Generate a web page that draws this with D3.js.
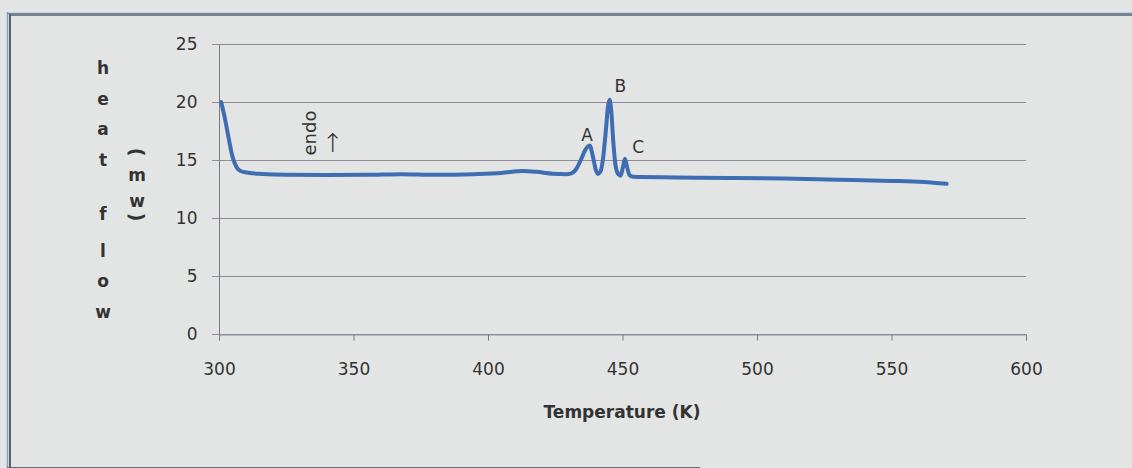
<!DOCTYPE html>
<html>
<head>
<meta charset="utf-8">
<script src="https://cdn.jsdelivr.net/npm/d3@7/dist/d3.min.js"></script>
<style>
  html, body { margin: 0; padding: 0; background: #e3e5e5; }
  svg { display: block; }
  text { font-family: "DejaVu Sans", sans-serif; fill: #333; }
</style>
</head>
<body>
<svg id="chart" width="1132" height="468"></svg>
<script>
// ---- data ----
const temperature = [300.8, 302, 303.5, 305, 306.5, 308, 311, 316, 325, 340, 355, 368, 380, 395, 405, 413, 418, 424, 429, 431, 433, 434.5, 436, 437.8, 439, 440, 440.8, 441.8, 442.8, 443.8, 444.6, 445.2, 445.8, 446.6, 447.5, 448.5, 449.3, 450.1, 450.9, 451.7, 452.6, 454, 470, 490, 510, 530, 550, 562, 570.5];
const heatFlow = [20.0, 18.8, 17.0, 15.3, 14.4, 14.05, 13.9, 13.8, 13.72, 13.7, 13.72, 13.78, 13.72, 13.78, 13.88, 14.05, 13.98, 13.82, 13.78, 13.85, 14.3, 15.0, 15.8, 16.25, 15.3, 14.2, 13.8, 14.0, 15.2, 17.5, 19.6, 20.2, 19.3, 16.5, 14.4, 13.75, 13.65, 14.3, 15.1, 14.4, 13.7, 13.55, 13.5, 13.45, 13.4, 13.3, 13.2, 13.1, 12.95];
const xTicks = [300, 350, 400, 450, 500, 550, 600];
const yTicks = [0, 5, 10, 15, 20, 25];
const peakLabels = ["A", "B", "C"];
const peakT = [436.8, 449.2, 455.8];
const peakV = [16.6, 20.85, 15.6];
const xTitle = "Temperature (K)";
const yTitleLetters = ["h", "e", "a", "t", "f", "l", "o", "w"];
const yUnitLetters = ["(", "m", "w", ")"];

// ---- layout ----
const svg = d3.select("#chart");
const x = d3.scaleLinear().domain([300, 600]).range([219, 1026]);
const y = d3.scaleLinear().domain([0, 25]).range([334, 44]);

// frame
svg.append("line").attr("x1", 7.5).attr("x2", 7.5).attr("y1", 12).attr("y2", 468).attr("stroke", "#7fa3cf").attr("stroke-width", 1.5);
svg.append("line").attr("x1", 10).attr("x2", 10).attr("y1", 13).attr("y2", 468).attr("stroke", "#5d6068").attr("stroke-width", 2);
svg.append("line").attr("x1", 7).attr("x2", 1132).attr("y1", 13.5).attr("y2", 13.5).attr("stroke", "#6b8fbd").attr("stroke-width", 1.5);
svg.append("line").attr("x1", 9).attr("x2", 1132).attr("y1", 15).attr("y2", 15).attr("stroke", "#5d6068").attr("stroke-width", 1.5);
svg.append("line").attr("x1", 7).attr("x2", 700).attr("y1", 467.5).attr("y2", 467.5).attr("stroke", "#6a6870").attr("stroke-width", 1);

// gridlines
svg.append("g").selectAll("line").data(yTicks).join("line")
  .attr("x1", 212).attr("x2", x(600))
  .attr("y1", d => Math.round(y(d)) + 0.5).attr("y2", d => Math.round(y(d)) + 0.5)
  .attr("stroke", "#8f8b9b").attr("stroke-width", 1);

// axes
const xAxis = svg.append("g").attr("transform", `translate(0,${Math.round(y(0)) + 0.5})`)
  .call(d3.axisBottom(x).tickValues(xTicks).tickSize(6).tickPadding(22));
xAxis.select(".domain").attr("stroke", "#8f8b9b");
xAxis.selectAll(".tick line").attr("stroke", "#7b7886");
xAxis.selectAll("text").attr("font-size", 17).attr("fill", "#333").attr("font-family", "DejaVu Sans");

const yAxis = svg.append("g").attr("transform", `translate(${Math.round(x(300)) + 0.5},0)`)
  .call(d3.axisLeft(y).tickValues(yTicks).tickSize(0).tickPadding(22));
yAxis.select(".domain").attr("d", `M0,${y(25)}V${y(0) + 6}`).attr("stroke", "#7b7886");
yAxis.selectAll("text").attr("font-size", 17).attr("fill", "#333").attr("font-family", "DejaVu Sans");

// curve
const pts = temperature.map((t, i) => [t, heatFlow[i]]);
svg.append("path").datum(pts)
  .attr("fill", "none").attr("stroke", "#3e6db2").attr("stroke-width", 4)
  .attr("stroke-linejoin", "round").attr("stroke-linecap", "round")
  .attr("d", d3.line().x(d => x(d[0])).y(d => y(d[1])).curve(d3.curveMonotoneX));

// peak labels
svg.append("g").selectAll("text").data(peakLabels).join("text")
  .attr("x", (d, i) => x(peakT[i])).attr("y", (d, i) => y(peakV[i]))
  .attr("text-anchor", "middle").attr("font-size", 17).text(d => d);

// endo arrow annotation
svg.append("text").attr("transform", `translate(316,133) rotate(-90)`)
  .attr("font-size", 18).attr("text-anchor", "middle").text("endo");
svg.append("text").attr("x", 333).attr("y", 143).attr("dy", "0.35em")
  .attr("font-size", 26).attr("font-weight", "200").attr("text-anchor", "middle").text("↑");

// x title
svg.append("text").attr("x", 622).attr("y", 418).attr("text-anchor", "middle")
  .attr("font-size", 17).attr("font-weight", "bold").text(xTitle);

// y title stacked letters
const titleY = [74, 105, 135, 166, 220, 257, 287, 318];
svg.append("g").selectAll("text").data(yTitleLetters).join("text")
  .attr("x", 103).attr("y", (d, i) => titleY[i]).attr("text-anchor", "middle")
  .attr("font-size", 17).attr("font-weight", "bold").text(d => d);
const unitY = [152, 181, 207, 217];
svg.append("g").selectAll("text").data(yUnitLetters).join("text")
  .attr("transform", (d, i) => (d === "(" || d === ")")
      ? `translate(137,${unitY[i]}) rotate(90)` : `translate(137,${unitY[i]})`)
  .attr("text-anchor", "middle").attr("dy", (d) => (d === "(" || d === ")") ? "0.35em" : 0)
  .attr("font-size", (d) => (d === "(" || d === ")") ? 19 : 17).attr("font-weight", "bold").text(d => d);
</script>
</body>
</html>
